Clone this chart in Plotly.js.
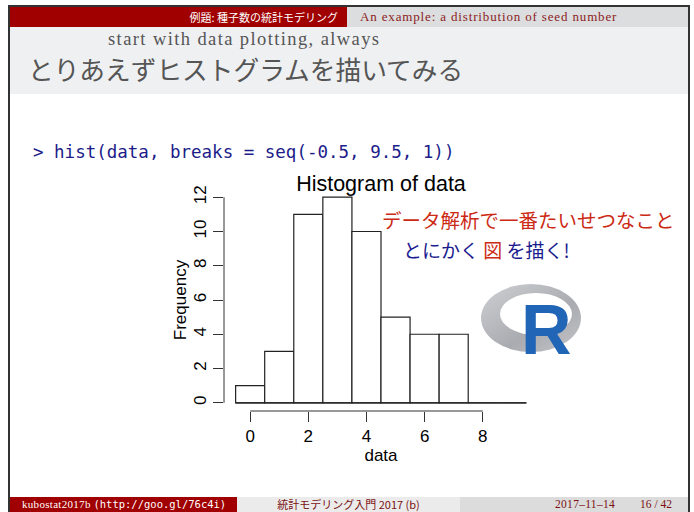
<!DOCTYPE html>
<html>
<head>
<meta charset="utf-8">
<script src="https://cdn.plot.ly/plotly-3.0.1.min.js"></script>
<style>
  html, body { margin:0; padding:0; background:#fff; }
  #slide { position:absolute; left:0; top:0; width:694px; height:512px; overflow:hidden; background:#fff; }
  .abs { position:absolute; white-space:nowrap; }
  .cjk { font-family:"Noto Sans CJK JP", sans-serif; }
  .serif { font-family:"Liberation Serif", "DejaVu Serif", serif; }
  .mono { font-family:"DejaVu Sans Mono", monospace; }
</style>
</head>
<body>
<div id="slide">
  <!-- frame -->
  <div class="abs" style="left:8px; top:5px; width:682px; height:520px; border:2px solid #333; box-sizing:border-box;"></div>
  <!-- header -->
  <div class="abs" style="left:10px; top:7px; width:337px; height:20px; background:#a00000;"></div>
  <div class="abs" style="left:347px; top:7px; width:341px; height:20px; background:#dcdddf;"></div>
  <div class="abs cjk" style="left:10px; top:7px; width:328px; height:20px; line-height:20px; text-align:right; color:#fff; font-size:11px;">例題: 種子数の統計モデリング</div>
  <div class="abs serif" style="left:360px; top:7px; height:20px; line-height:20px; color:#8b1c1c; font-size:13px; letter-spacing:0.85px;">An example: a distribution of seed number</div>
  <!-- title area -->
  <div class="abs" style="left:10px; top:27px; width:678px; height:67px; background:#eff0f2;"></div>
  <div class="abs serif" style="left:108px; top:30px; height:19px; line-height:19px; color:#555; font-size:18.5px; letter-spacing:1.4px;">start with data plotting, always</div>
  <div class="abs cjk" style="left:28px; top:54px; height:30px; line-height:30px; color:#555; font-size:25.7px;">とりあえずヒストグラムを描いてみる</div>
  <!-- command -->
  <div class="abs mono" style="left:33px; top:141px; line-height:22px; color:#1c1c8a; font-size:17.5px;">&gt; hist(data, breaks = seq(-0.5, 9.5, 1))</div>
  <!-- footer -->
  <div class="abs" style="left:10px; top:497px; width:227px; height:15px; background:#a00000;"></div>
  <div class="abs" style="left:237px; top:497px; width:223px; height:15px; background:#ebebeb;"></div>
  <div class="abs" style="left:460px; top:497px; width:228px; height:15px; background:#dcdcdc;"></div>
  <div class="abs" style="left:22px; top:497px; line-height:15px; color:#fff; font-size:11px;"><span class="serif" style="letter-spacing:0.3px;">kubostat2017b</span> <span class="mono" style="font-size:10.5px;">(http://goo.gl/76c4i)</span></div>
  <div class="abs cjk" style="left:237px; top:497px; width:223px; line-height:15px; text-align:center; color:#7a1010; font-size:11px;">統計モデリング入門 2017 (b)</div>
  <div class="abs serif" style="left:555px; top:497px; line-height:15px; color:#7a1010; font-size:11.5px; letter-spacing:0.3px;">2017–11–14</div>
  <div class="abs serif" style="left:640px; top:497px; line-height:15px; color:#7a1010; font-size:11.5px;">16 / 42</div>

  <div id="chart" class="abs" style="left:0; top:0; width:694px; height:512px; z-index:1;"></div>

  <!-- message text -->
  <div class="abs cjk" style="left:382px; top:206px; line-height:28px; color:#cc2a14; font-size:19.5px; z-index:2;">データ解析で一番たいせつなこと</div>
  <div class="abs cjk" style="left:403px; top:236px; line-height:28px; color:#1c1c8f; font-size:19px; z-index:2;">とにかく <span style="color:#cc2a14;">図</span> を描く!</div>
  <!-- R logo -->
  <svg class="abs" style="left:466px; top:270px; z-index:2;" width="130" height="100" viewBox="466 270 130 100">
    <defs>
      <linearGradient id="rg" x1="0" y1="0" x2="1" y2="1">
        <stop offset="0" stop-color="#cfd0d4"/>
        <stop offset="0.6" stop-color="#a9abb0"/>
        <stop offset="1" stop-color="#c4c5c9"/>
      </linearGradient>
    </defs>
    <path fill="url(#rg)" fill-rule="evenodd"
      d="M481,318 a50,34 0 1,0 100,0 a50,34 0 1,0 -100,0 Z M500,314 a36,21 0 1,0 72,0 a36,21 0 1,0 -72,0 Z"/>
    <text x="521" y="354" fill="#2165b6" font-family="Liberation Sans, Arial, sans-serif" font-weight="bold" font-size="70">R</text>
  </svg>
</div>

<script>
// Histogram data
const breaks = [-0.5, 0.5, 1.5, 2.5, 3.5, 4.5, 5.5, 6.5, 7.5, 8.5, 9.5];
const counts = [1, 3, 11, 12, 10, 5, 4, 4, 0, 0];
const xTicks = [0, 2, 4, 6, 8];
const yTicks = [0, 2, 4, 6, 8, 10, 12];
const chartTitle = 'Histogram of data';
const xLabel = 'data';
const yLabel = 'Frequency';

const mids = counts.map((c, i) => (breaks[i] + breaks[i + 1]) / 2);
const widths = counts.map((c, i) => breaks[i + 1] - breaks[i]);

const xr = breaks[breaks.length - 1] - breaks[0];
const xRange = [breaks[0] - 0.04 * xr, breaks[breaks.length - 1] + 0.04 * xr];
const yMax = Math.max(...counts);
const yRange = [-0.04 * yMax, yMax * 1.04];

const fontFam = '"Liberation Sans", Arial, sans-serif';

const traces = [
  {
    type: 'bar', x: mids, y: counts, width: widths,
    marker: { color: '#ffffff', line: { color: '#222', width: 1.2 } },
    hoverinfo: 'skip', showlegend: false
  },
  {
    type: 'scatter', mode: 'lines',
    x: [breaks[0], breaks[breaks.length - 1]], y: [0, 0],
    line: { color: '#222', width: 1.2 }, hoverinfo: 'skip', showlegend: false
  }
];

const layout = {
  width: 694, height: 512,
  margin: { l: 224, r: 156, t: 189, b: 101, pad: 0 },
  paper_bgcolor: 'rgba(0,0,0,0)', plot_bgcolor: 'rgba(0,0,0,0)',
  showlegend: false,
  bargap: 0,
  title: {
    text: chartTitle, x: 0.5, xref: 'paper', xanchor: 'center',
    y: 1 - 183 / 512, yref: 'container', yanchor: 'middle',
    font: { family: fontFam, size: 21.5, color: '#000' }
  },
  xaxis: {
    range: xRange, tickvals: xTicks, ticktext: xTicks.map(String),
    ticks: 'outside', ticklen: 10, tickwidth: 1, tickcolor: '#333',
    showline: false, showgrid: false, zeroline: false,
    tickfont: { family: fontFam, size: 17, color: '#000' },
    title: { text: xLabel, font: { family: fontFam, size: 17, color: '#000' }, standoff: 2 }
  },
  yaxis: {
    range: yRange, tickvals: yTicks, ticktext: yTicks.map(String),
    ticks: 'outside', ticklen: 10, tickwidth: 1, tickcolor: '#333', tickangle: -90,
    showline: false, showgrid: false, zeroline: false,
    tickfont: { family: fontFam, size: 17, color: '#000' },
    title: { text: yLabel, font: { family: fontFam, size: 17, color: '#000' }, standoff: 0 }
  },
  shapes: [
    { type: 'line', xref: 'x', yref: 'paper', x0: xTicks[0], x1: xTicks[xTicks.length - 1], y0: 0, y1: 0,
      line: { color: '#333', width: 1 } },
    { type: 'line', xref: 'paper', yref: 'y', x0: 0, x1: 0, y0: yTicks[0], y1: yTicks[yTicks.length - 1],
      line: { color: '#333', width: 1 } }
  ]
};

Plotly.newPlot('chart', traces, layout, { displayModeBar: false, staticPlot: true });
</script>
</body>
</html>
